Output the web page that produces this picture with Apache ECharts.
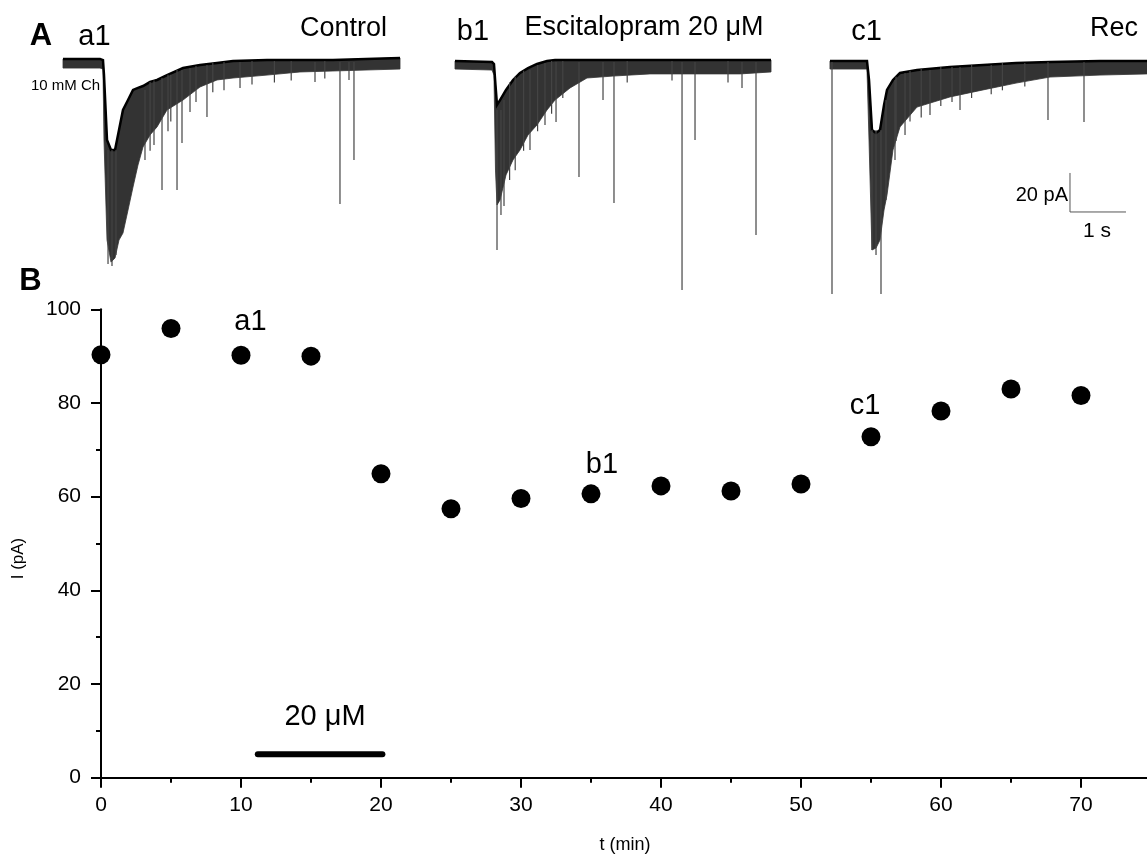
<!DOCTYPE html>
<html><head><meta charset="utf-8">
<script src="https://cdn.jsdelivr.net/npm/echarts@6/dist/echarts.min.js"></script>
<style>html,body{margin:0;padding:0;background:#fff}#c{width:1147px;height:858px}</style>
</head><body><div id="c"></div>
<script>
// ---------- Panel B : peak current vs time ----------
const timeMin   = [0, 5, 10, 15, 20, 25, 30, 35, 40, 45, 50, 55, 60, 65, 70];
const currentPA = [90.3, 95.9, 90.2, 90.0, 64.9, 57.4, 59.6, 60.6, 62.3, 61.2, 62.7, 72.8, 78.3, 83.0, 81.6];
const drugStartEnd = [11.2, 20.1];   // min, escitalopram application bar
const drugBarLevel = 5;              // pA

// ---------- Panel A : current traces (time s, upper envelope pA, lower envelope pA) ----------
const traceA1 = [
  [1.125,2.1,-2.6],[1.786,2.1,-2.6],[1.839,1.5,-3.1],[1.857,-6.2,-39.5],[1.911,-39.5,-90.8],
  [1.982,-44.6,-102.1],[2.054,-44.6,-100.0],[2.125,-34.4,-90.8],[2.196,-24.1,-87.2],[2.286,-19.0,-75.4],
  [2.375,-13.8,-63.6],[2.464,-12.8,-52.3],[2.554,-11.8,-43.1],[2.679,-9.7,-36.9],[2.804,-8.7,-32.8],
  [2.982,-6.2,-24.1],[3.268,-2.6,-19.0],[3.571,-1.0,-12.3],[3.875,0.0,-8.7],[4.161,1.0,-7.7],
  [4.768,1.5,-6.2],[5.357,1.5,-4.6],[5.946,1.5,-4.1],[6.536,2.1,-3.6],[7.143,2.6,-3.1]
];
const traceB1 = [
  [8.125,1.0,-3.1],[8.786,0.5,-3.6],[8.821,-0.5,-6.2],[8.848,-11.3,-54.9],[8.875,-21.5,-72.8],
  [8.929,-19.0,-70.3],[9.036,-13.8,-57.4],[9.161,-8.7,-49.7],[9.286,-5.1,-44.6],[9.429,-2.6,-36.9],
  [9.589,-0.5,-31.8],[9.768,1.0,-24.1],[9.911,1.5,-19.0],[10.179,1.5,-12.8],[10.482,1.5,-7.7],
  [10.946,1.5,-6.7],[11.607,1.5,-5.6],[12.5,1.5,-5.6],[13.214,1.5,-5.6],[13.768,1.5,-4.6]
];
const traceC1 = [
  [14.821,1.0,-3.1],[15.482,1.0,-3.1],[15.518,-8.7,-39.5],[15.571,-34.4,-95.9],[15.643,-35.9,-94.9],
  [15.714,-34.4,-90.8],[15.786,-21.5,-75.4],[15.839,-13.8,-67.7],[15.946,-8.7,-44.6],[16.071,-5.1,-32.8],
  [16.375,-3.6,-22.6],[16.964,-2.1,-17.4],[17.554,-1.0,-13.8],[18.143,0.0,-10.3],[18.75,0.5,-7.2],
  [19.643,1.0,-6.2],[20.482,1.0,-5.6]
];
// spontaneous openings: (time s, from pA, to pA)
const spikesA1 = [
  [1.929,-44.6,-103.1],[2.0,-44.6,-104.1],[2.071,-44.6,-98.5],[2.589,-13.8,-49.7],[2.893,-7.7,-65.1],
  [3.161,-3.6,-65.1],[3.25,-3.6,-41.0],[3.393,-2.6,-25.1],[3.696,-1.0,-27.7],[4.286,0.5,-12.8],
  [5.625,0.5,-9.7],[6.071,0.5,-72.3],[6.232,0.5,-8.7],[6.321,0.5,-49.7],
  [2.68,-9.7,-45.0],[2.75,-9.0,-42.0],[3.0,-6.0,-35.0],[3.05,-6.0,-30.0],[3.5,-1.5,-20.0],
  [3.8,0.0,-15.0],[4.0,0.5,-14.0],[4.5,1.0,-11.0],[4.9,1.0,-10.0],[5.2,1.0,-9.0],[5.8,1.0,-8.0]
];
const spikesB1 = [
  [8.875,-24.1,-95.9],[8.946,-24.1,-77.9],[9.0,-19.0,-73.3],[9.464,-3.6,-44.6],[9.732,0.0,-31.8],
  [9.929,0.5,-30.3],[10.339,0.5,-58.5],[10.768,0.5,-19.0],[10.964,0.5,-71.8],[12.179,0.5,-116.4],
  [12.411,0.5,-39.5],[13.25,0.5,-12.8],[13.5,0.5,-88.2],
  [9.1,-10.0,-60.0],[9.2,-7.0,-55.0],[9.35,-4.0,-45.0],[9.6,-1.0,-35.0],[9.85,1.0,-26.0],
  [10.05,1.0,-18.0],[11.2,1.0,-10.0],[12.0,1.0,-9.0],[13.0,1.0,-10.0]
];
const spikesC1 = [
  [14.857,0.5,-118.5],[15.571,-34.4,-95.9],[15.643,-34.4,-98.5],[15.732,-34.4,-118.5],[15.821,-19.0,-70.3],
  [15.982,-8.7,-49.7],[16.161,-5.1,-36.9],[16.607,-3.6,-26.7],[17.143,-2.1,-24.1],[18.714,0.5,-29.2],
  [19.357,0.5,-30.3],
  [16.0,-7.0,-40.0],[16.25,-4.0,-30.0],[16.45,-3.0,-28.0],[16.8,-2.0,-22.0],[17.0,-2.0,-20.0],
  [17.35,-1.0,-18.0],[17.7,-1.0,-16.0],[17.9,0.0,-14.0],[18.3,0.0,-12.0]
];
const scaleBarPA = 20, scaleBarS = 1;
const scaleBarAnchor = [19.107, -56.4];

const FONT = 'Liberation Sans, Arial, sans-serif';

function bandSeries(rows){
  return {type:'custom', xAxisIndex:1, yAxisIndex:1, data: rows, encode:{x:0, y:[1,2]},
    silent:true, clip:false, z:3,
    renderItem:(params, api)=>{
      if (params.dataIndex !== 0) return null;
      const up = rows.map(r=>api.coord([r[0], r[1]]));
      const dn = rows.map(r=>api.coord([r[0], r[2]])).reverse();
      return {type:'group', children:[
        {type:'polygon', shape:{points: up.concat(dn)},
          style:{fill:'#333', stroke:'#333', lineWidth:0.8}},
        {type:'polyline', shape:{points: up},
          style:{fill:null, stroke:'#000', lineWidth:2.5}}
      ]};
    }};
}
function spikeSeries(rows){
  return {type:'custom', xAxisIndex:1, yAxisIndex:1, data: rows, encode:{x:0, y:[1,2]},
    silent:true, clip:false, z:4,
    renderItem:(params, api)=>{
      const a = api.coord([api.value(0), api.value(1)]);
      const b = api.coord([api.value(0), api.value(2)]);
      return {type:'line', shape:{x1:a[0], y1:a[1], x2:b[0], y2:b[1]},
        style:{stroke:'#444', lineWidth:1.2}};
    }};
}

const chart = echarts.init(document.getElementById('c'), null, {renderer:'canvas'});
const tickStyle = {color:'#000', width:2};
const option = {
  animation:false,
  backgroundColor:'#fff',
  grid:[
    {left:101, top:309.3, width:1120, height:468.4, outerBoundsMode:'none', containLabel:false},
    {left:0, top:33.75, width:1147, height:273, outerBoundsMode:'none', containLabel:false}
  ],
  xAxis:[
    {type:'value', gridIndex:0, min:0, max:80, interval:10,
      axisLine:{show:true, onZero:false, lineStyle:tickStyle},
      axisTick:{show:true, length:10, lineStyle:tickStyle},
      minorTick:{show:true, splitNumber:2, length:5, lineStyle:tickStyle},
      splitLine:{show:false}, minorSplitLine:{show:false},
      axisLabel:{fontSize:21, color:'#000', margin:17, fontFamily:FONT, hideOverlap:false},
      name:'t (min)', nameLocation:'middle', nameGap:58,
      nameTextStyle:{fontSize:18, color:'#000', fontFamily:FONT, padding:[0,72,0,0]}},
    {type:'value', gridIndex:1, min:0, max:20.482, show:false}
  ],
  yAxis:[
    {type:'value', gridIndex:0, min:0, max:100, interval:20,
      axisLine:{show:true, onZero:false, lineStyle:tickStyle},
      axisTick:{show:true, length:10, lineStyle:tickStyle},
      minorTick:{show:true, splitNumber:2, length:5, lineStyle:tickStyle},
      splitLine:{show:false}, minorSplitLine:{show:false},
      axisLabel:{fontSize:21, color:'#000', margin:20, fontFamily:FONT},
      name:'I (pA)', nameLocation:'middle', nameGap:74, nameRotate:90,
      nameTextStyle:{fontSize:17, color:'#000', fontFamily:FONT, padding:[0,30,0,0]}},
    {type:'value', gridIndex:1, min:-125, max:15, show:false}
  ],
  series:[
    {type:'scatter', xAxisIndex:0, yAxisIndex:0, symbolSize:19, clip:false, z:5,
      itemStyle:{color:'#000', opacity:1},
      data: timeMin.map((t,i)=>[t, currentPA[i]])},
    {type:'line', xAxisIndex:0, yAxisIndex:0, symbol:'none', silent:true,
      lineStyle:{color:'#000', width:6, cap:'round', opacity:1},
      data: drugStartEnd.map(t=>[t, drugBarLevel])},
    bandSeries(traceA1), bandSeries(traceB1), bandSeries(traceC1),
    spikeSeries(spikesA1), spikeSeries(spikesB1), spikeSeries(spikesC1),
    {type:'line', xAxisIndex:1, yAxisIndex:1, symbol:'none', silent:true,
      lineStyle:{color:'#555', width:1},
      data:[[scaleBarAnchor[0], scaleBarAnchor[1]],
            [scaleBarAnchor[0], scaleBarAnchor[1]-scaleBarPA],
            [scaleBarAnchor[0]+scaleBarS, scaleBarAnchor[1]-scaleBarPA]]}
  ],
  graphic:[
    {type:'text', x:41, y:36, style:{text:'A', font:'bold 31px '+FONT, fill:'#000', align:'center', verticalAlign:'middle'}},
    {type:'text', x:94.5, y:37, style:{text:'a1', font:'29px '+FONT, fill:'#000', align:'center', verticalAlign:'middle'}},
    {type:'text', x:343.5, y:29, style:{text:'Control', font:'27px '+FONT, fill:'#000', align:'center', verticalAlign:'middle'}},
    {type:'text', x:473, y:32, style:{text:'b1', font:'29px '+FONT, fill:'#000', align:'center', verticalAlign:'middle'}},
    {type:'text', x:644, y:28, style:{text:'Escitalopram 20 μM', font:'27px '+FONT, fill:'#000', align:'center', verticalAlign:'middle'}},
    {type:'text', x:866.5, y:32, style:{text:'c1', font:'29px '+FONT, fill:'#000', align:'center', verticalAlign:'middle'}},
    {type:'text', x:1090, y:29, style:{text:'Rec', font:'27px '+FONT, fill:'#000', align:'left', verticalAlign:'middle'}},
    {type:'text', x:65.5, y:85.5, style:{text:'10 mM Ch', font:'15px '+FONT, fill:'#000', align:'center', verticalAlign:'middle'}},
    {type:'text', x:1068, y:195, style:{text:'20 pA', font:'20px '+FONT, fill:'#000', align:'right', verticalAlign:'middle'}},
    {type:'text', x:1097, y:231, style:{text:'1 s', font:'21px '+FONT, fill:'#000', align:'center', verticalAlign:'middle'}},
    {type:'text', x:30.5, y:281, style:{text:'B', font:'bold 31px '+FONT, fill:'#000', align:'center', verticalAlign:'middle'}},
    {type:'text', x:250.5, y:322, style:{text:'a1', font:'29px '+FONT, fill:'#000', align:'center', verticalAlign:'middle'}},
    {type:'text', x:602, y:465, style:{text:'b1', font:'29px '+FONT, fill:'#000', align:'center', verticalAlign:'middle'}},
    {type:'text', x:865, y:405.5, style:{text:'c1', font:'29px '+FONT, fill:'#000', align:'center', verticalAlign:'middle'}},
    {type:'text', x:325, y:717, style:{text:'20 μM', font:'29px '+FONT, fill:'#000', align:'center', verticalAlign:'middle'}}
  ]
};
chart.setOption(option);
</script></body></html>
